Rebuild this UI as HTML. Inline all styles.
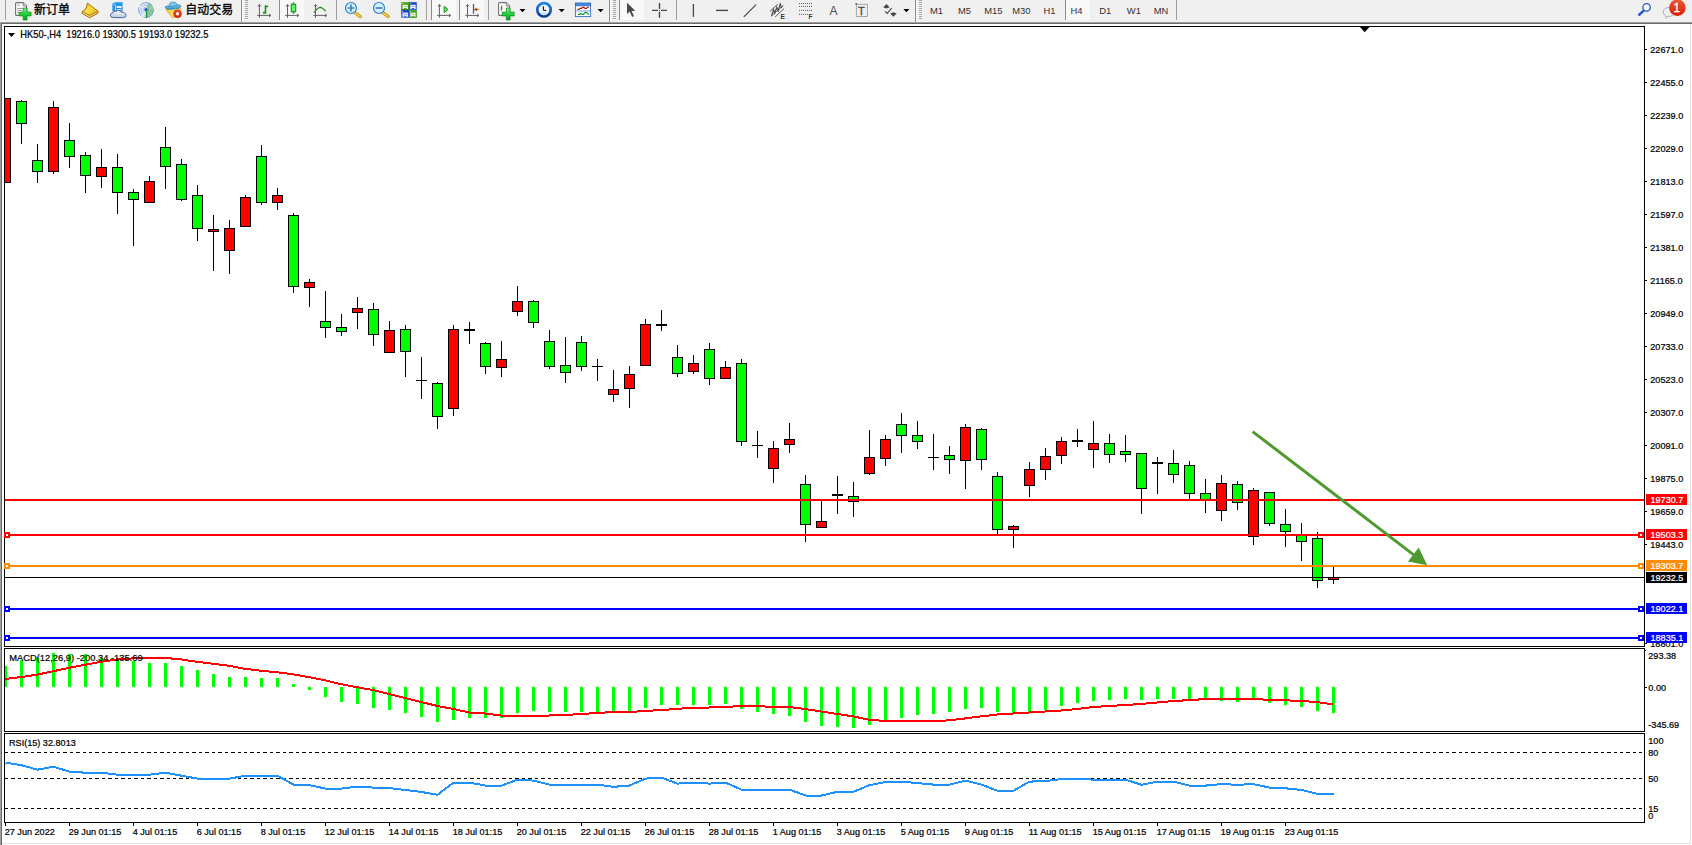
<!DOCTYPE html>
<html><head><meta charset="utf-8"><title>HK50-,H4</title>
<style>
html,body{margin:0;padding:0;background:#fff;}
body{width:1692px;height:845px;position:relative;overflow:hidden;font-family:"Liberation Sans", "Noto Sans CJK SC", sans-serif;}
#tb{position:absolute;left:0;top:0;width:1692px;height:22px;background:#f0f0f0;}
#tbl1{position:absolute;left:0;top:22px;width:1692px;height:1px;background:#a0a0a0;}
#tbl2{position:absolute;left:0;top:23px;width:1692px;height:1px;background:#696969;}
#lb{position:absolute;left:0;top:22px;width:1px;height:823px;background:#a0a0a0;}
#lb2{position:absolute;left:1px;top:23px;width:1px;height:822px;background:#696969;}
#rb{position:absolute;left:1690px;top:24px;width:1px;height:820px;background:#e3e3e3;}
#bb{position:absolute;left:2px;top:843px;width:1689px;height:1px;background:#e3e3e3;}
</style></head><body>
<div id="tb"><svg width="1692" height="24" viewBox="0 0 1692 24" style="position:absolute;left:0;top:0">
<defs>
<linearGradient id="gPlus" x1="0" y1="0" x2="0" y2="1"><stop offset="0" stop-color="#7af08a"/><stop offset="0.5" stop-color="#22d03a"/><stop offset="1" stop-color="#0a9a1c"/></linearGradient>
<linearGradient id="gGold" x1="0" y1="0" x2="1" y2="1"><stop offset="0" stop-color="#f2c21a"/><stop offset="0.5" stop-color="#fbe04a"/><stop offset="1" stop-color="#d99a10"/></linearGradient>
<linearGradient id="gBlue" x1="0" y1="0" x2="0" y2="1"><stop offset="0" stop-color="#1aa0f0"/><stop offset="1" stop-color="#2a7ae0"/></linearGradient>
<linearGradient id="gCloud" x1="0" y1="0" x2="0" y2="1"><stop offset="0" stop-color="#ffffff"/><stop offset="1" stop-color="#b8c6de"/></linearGradient>
<linearGradient id="gRed" x1="0" y1="0" x2="0" y2="1"><stop offset="0" stop-color="#ea5a3a"/><stop offset="1" stop-color="#d81e00"/></linearGradient>
<linearGradient id="gClock" x1="0" y1="0" x2="0" y2="1"><stop offset="0" stop-color="#2484e4"/><stop offset="1" stop-color="#083c94"/></linearGradient>
<linearGradient id="gHat" x1="0" y1="0" x2="0" y2="1"><stop offset="0" stop-color="#7cc4ea"/><stop offset="1" stop-color="#3a98cc"/></linearGradient>
<linearGradient id="gFace" x1="0" y1="0" x2="1" y2="0"><stop offset="0" stop-color="#f0c020"/><stop offset="0.6" stop-color="#fff080"/><stop offset="1" stop-color="#f0c838"/></linearGradient>
<linearGradient id="gGreenT" x1="0" y1="0" x2="0" y2="1"><stop offset="0" stop-color="#4aa818"/><stop offset="1" stop-color="#2a8a08"/></linearGradient>
<linearGradient id="gBlueT" x1="0" y1="0" x2="0" y2="1"><stop offset="0" stop-color="#1840c0"/><stop offset="1" stop-color="#3a6ae8"/></linearGradient>
<radialGradient id="gSig" cx="0.5" cy="0.5" r="0.5"><stop offset="0" stop-color="#ffffff"/><stop offset="1" stop-color="#d8e4f4"/></radialGradient>
<g id="axes" fill="none" stroke="#5a5a5a" stroke-width="0.95"><path d="M3.4 4.8V17.8M1.2 15.4H14.4"/><path d="M1.9 6.4L3.4 4.5L4.9 6.4M13 13.9L14.7 15.4L13 16.9" stroke-width="1"/></g>
<g id="grip" fill="#a8a8a8"><rect x="0" y="0" width="3" height="1"/><rect x="0" y="2" width="3" height="1"/><rect x="0" y="4" width="3" height="1"/><rect x="0" y="6" width="3" height="1"/><rect x="0" y="8" width="3" height="1"/><rect x="0" y="10" width="3" height="1"/><rect x="0" y="12" width="3" height="1"/><rect x="0" y="14" width="3" height="1"/><rect x="0" y="16" width="3" height="1"/><rect x="0" y="18" width="3" height="1"/></g>
<g id="dd"><path d="M0 0H6L3 3.2Z" fill="#000"/></g>
<g id="doc"><path d="M0.6 1.6Q0.6 0.6 1.6 0.6H8.2L11.6 4V12.4Q11.6 13.4 10.6 13.4H1.6Q0.6 13.4 0.6 12.4Z" fill="#fff" stroke="#707070" stroke-width="1.1"/><path d="M8.2 0.6V4H11.6" fill="#e8e8e8" stroke="#707070" stroke-width="0.9"/></g>
<g id="plus"><path d="M4.1 0H7.9V4.1H12V7.9H7.9V12H4.1V7.9H0V4.1H4.1Z" fill="url(#gPlus)" stroke="#0c8a1a" stroke-width="0.7"/></g>
<g id="win"><rect x="1.3" y="2.6" width="5.3" height="4.2" fill="#fff" opacity="0.95"/><rect x="2.3" y="3.7" width="3.3" height="1" fill="currentColor" opacity="0.5"/><rect x="2.6" y="5.8" width="2.7" height="1" fill="currentColor" opacity="0.9"/><rect x="0.8" y="0.8" width="1" height="0.9" fill="#fff" opacity="0.8"/></g>
</defs>
<rect x="0" y="0" width="1692" height="22" fill="#f0f0f0"/>
<!-- separators -->
<g shape-rendering="crispEdges">
<rect x="5" y="0" width="1" height="20" fill="#a0a0a0"/>
<rect x="241" y="0" width="1" height="22" fill="#8c8c8c"/><rect x="242" y="0" width="1" height="22" fill="#fafafa"/>
<rect x="336" y="0" width="1" height="20" fill="#a0a0a0"/>
<rect x="426" y="0" width="1" height="20" fill="#a0a0a0"/>
<rect x="488" y="0" width="1" height="20" fill="#a0a0a0"/>
<rect x="609" y="0" width="1" height="22" fill="#8c8c8c"/><rect x="610" y="0" width="1" height="22" fill="#fafafa"/>
<rect x="676" y="0" width="1" height="20" fill="#a0a0a0"/>
<rect x="915" y="0" width="1" height="22" fill="#8c8c8c"/><rect x="916" y="0" width="1" height="22" fill="#fafafa"/>
<rect x="1176" y="0" width="1" height="20" fill="#a0a0a0"/>
<!-- pressed buttons -->
<rect x="279" y="0" width="1" height="20" fill="#8c8c8c"/><rect x="280" y="0" width="24" height="20" fill="#f8f8f8"/>
<rect x="431" y="0" width="1" height="20" fill="#8c8c8c"/><rect x="432" y="0" width="24" height="20" fill="#f8f8f8"/>
<rect x="459" y="0" width="1" height="20" fill="#8c8c8c"/><rect x="460" y="0" width="24" height="20" fill="#f8f8f8"/>
<rect x="619" y="0" width="1" height="20" fill="#8c8c8c"/><rect x="620" y="0" width="24" height="20" fill="#f8f8f8"/>
<rect x="1065" y="0" width="1" height="20" fill="#8c8c8c"/><rect x="1066" y="0" width="24" height="20" fill="#f8f8f8"/>
<use href="#grip" x="245" y="0"/><use href="#grip" x="613" y="0"/><use href="#grip" x="919" y="0"/>
</g>
<!-- new order -->
<use href="#doc" x="15" y="2"/>
<g stroke="#8a8a8a" stroke-width="0.9"><path d="M17.2 5H19.8M17.2 8.4H23M17.2 10.4H22M17.2 12.6H19"/></g>
<use href="#plus" x="19.1" y="8"/>
<text x="34" y="14" font-family='"Liberation Sans","Noto Sans CJK SC",sans-serif' font-size="12px" fill="#000" stroke="#000" stroke-width="0.3">新订单</text>
<!-- gold book -->
<path d="M87.4 3.1L98.2 11.4L98 13.2L89.6 17.8L82.2 13.4L82.3 11.6Q87 9.4 87.4 3.1Z" fill="#c48a14" stroke="#a86c08" stroke-width="0.9" stroke-linejoin="round"/>
<path d="M83 12.8L89.6 16.6L97.6 12.2" fill="none" stroke="#f6e6b0" stroke-width="0.9"/>
<path d="M87.5 3.4L97.8 11.3L89.7 15.4L82.6 11.4Q87.2 9.2 87.5 3.4Z" fill="url(#gGold)" stroke="#b87a0a" stroke-width="0.7" stroke-linejoin="round"/>
<!-- server + cloud -->
<path d="M112.4 3L116 2.2H122.6V11.6H112.4Z" fill="url(#gBlue)"/>
<path d="M112.4 3L115.4 5.4V11.6" fill="none" stroke="#d8f0ff" stroke-width="0.8"/>
<rect x="116.6" y="6" width="5" height="2" fill="#e8f4ff"/><rect x="116.6" y="9" width="5" height="1.2" fill="#bfe0ff"/>
<path d="M113.4 17.6Q110.4 17.6 110.4 15.2Q110.4 13.2 112.8 13Q113.6 10.6 116.2 11.2Q118 9.6 120.2 11Q121.2 11.6 121.4 12.4Q123.6 11.8 124.6 13.2Q126 13.4 126 15.4Q126 17.6 123.4 17.6Z" fill="url(#gCloud)" stroke="#4a68a8" stroke-width="1"/>
<!-- signal -->
<circle cx="146" cy="10" r="7.8" fill="url(#gSig)"/>
<path d="M146 10L146.4 17.7A7.7 7.7 0 0 0 153.7 10A7.7 7.7 0 0 0 148.4 2.7Z" fill="#86cc84" opacity="0.8"/>
<g fill="none" stroke="#3a66d4"><circle cx="146" cy="10" r="7.4" stroke-width="0.9" opacity="0.6" stroke-dasharray="14 3 9 2"/><circle cx="146" cy="10" r="5" stroke-width="0.9" opacity="0.5" stroke-dasharray="9 2 6 2"/><circle cx="146" cy="10" r="2.9" stroke-width="0.8" opacity="0.45"/></g>
<circle cx="146" cy="9.8" r="1.8" fill="#2858d0"/>
<path d="M146.6 10.2V17.7" stroke="#18a020" stroke-width="1.3"/>
<!-- expert hat -->
<path d="M165.8 9.4L180.6 8.2L177 15L172.6 17.9Z" fill="url(#gFace)" stroke="#d8a010" stroke-width="0.7"/>
<path d="M165 7.5Q165.2 5.8 168.4 5.9L177.6 5Q181 4.6 181 6.3Q180 8.6 174 9.1Q166.4 9.8 165 7.5Z" fill="url(#gHat)" stroke="#2a86b8" stroke-width="0.8"/>
<path d="M169 6.3Q169.2 2 173 2Q176.6 2 177.2 5.2Q173.4 7 169 6.3Z" fill="#86caee" stroke="#2a86b8" stroke-width="0.7"/>
<circle cx="177.5" cy="13.8" r="4" fill="url(#gRed)" stroke="#c01800" stroke-width="0.5"/>
<rect x="176.2" y="12.5" width="2.7" height="2.7" fill="#fff"/>
<text x="185.3" y="14" font-family='"Liberation Sans","Noto Sans CJK SC",sans-serif' font-size="12px" fill="#000" stroke="#000" stroke-width="0.3">自动交易</text>
<!-- chart type icons -->
<use href="#axes" x="256" y="0"/>
<path d="M265.5 5.2V13.8M265.5 6.5H268.2M262.8 12.6H265.5" stroke="#149414" stroke-width="1.6" fill="none"/>
<use href="#axes" x="284.1" y="0"/>
<path d="M293.5 2.2V13.8" stroke="#149414" stroke-width="1.3"/>
<rect x="291.3" y="4.2" width="4.4" height="7.6" fill="#62f074" stroke="#149414" stroke-width="1.1"/>
<use href="#axes" x="312.1" y="0"/>
<path d="M314 12.6Q317.6 7.6 320.2 7.4Q322 7.4 325.7 11" fill="none" stroke="#1c8c1c" stroke-width="1.3"/>
<!-- zoom in/out -->
<path d="M354.6 12.4L360.4 16.6" stroke="#caa018" stroke-width="3.2" stroke-linecap="round"/>
<path d="M354.6 12.4L360.4 16.6" stroke="#f4d860" stroke-width="1.2" stroke-linecap="round"/>
<circle cx="351" cy="8" r="5.5" fill="#d4eefb" stroke="#2a7fd0" stroke-width="1.2"/>
<path d="M347.6 8H354.4M351 4.6V11.4" stroke="#3a86bc" stroke-width="1.7"/>
<path d="M382.6 12.4L388.4 16.6" stroke="#caa018" stroke-width="3.2" stroke-linecap="round"/>
<path d="M382.6 12.4L388.4 16.6" stroke="#f4d860" stroke-width="1.2" stroke-linecap="round"/>
<circle cx="379" cy="8" r="5.5" fill="#d4eefb" stroke="#2a7fd0" stroke-width="1.2"/>
<path d="M375.6 8H382.4" stroke="#3a86bc" stroke-width="1.7"/>
<!-- tile windows -->
<rect x="401.2" y="2.2" width="7.8" height="7.8" fill="url(#gGreenT)"/><g color="#3a9a10"><use href="#win" x="401.2" y="2.2"/></g>
<rect x="409" y="2.2" width="7.8" height="7.8" fill="url(#gBlueT)"/><g color="#2050d0"><use href="#win" x="409" y="2.2"/></g>
<rect x="401.2" y="10" width="7.8" height="7.8" fill="url(#gBlueT)"/><g color="#2050d0"><use href="#win" x="401.2" y="10"/></g>
<rect x="409" y="10" width="7.8" height="7.8" fill="url(#gGreenT)"/><g color="#3a9a10"><use href="#win" x="409" y="10"/></g>
<!-- autoscroll / shift -->
<use href="#axes" x="436" y="0"/>
<path d="M444.2 6.2V12.6L448 9.4Z" fill="#5ee070" stroke="#149414" stroke-width="1"/>
<use href="#axes" x="464.1" y="0"/>
<path d="M473.5 4V13.8" stroke="#1470b0" stroke-width="1.3"/>
<path d="M474.4 9.5H478.6" stroke="#c84800" stroke-width="1.2"/><path d="M474.2 9.5L477 7.4L476.4 9.5L477 11.6Z" fill="#c03000"/>
<!-- indicators -->
<use href="#doc" x="498" y="2"/>
<path d="M502.6 5.6Q501.4 5.6 501.4 7V11" fill="none" stroke="#6a5a3a" stroke-width="0.9"/><path d="M500.6 8H503" stroke="#6a5a3a" stroke-width="0.8"/>
<use href="#plus" x="502.2" y="8"/>
<use href="#dd" x="519.5" y="9"/>
<!-- clock -->
<circle cx="544" cy="9.8" r="6.7" fill="#f4f7fb" stroke="url(#gClock)" stroke-width="2.7"/>
<circle cx="544" cy="9.8" r="5.2" fill="none" stroke="#c8d4e4" stroke-width="0.6" stroke-dasharray="0.6 2.12"/>
<path d="M543.4 6.2V10L546.2 10.6" fill="none" stroke="#202020" stroke-width="1.2"/>
<path d="M542.4 13.2H545.4" stroke="#6ab0f0" stroke-width="0.8"/>
<use href="#dd" x="558.6" y="9"/>
<!-- template -->
<rect x="575.4" y="3.2" width="15.2" height="13.4" fill="#fff" stroke="#3272c4" stroke-width="0.9"/>
<rect x="575.4" y="3.2" width="15.2" height="2.6" fill="#4a8ee0" stroke="#3272c4" stroke-width="0.9"/>
<path d="M575.4 11H590.6" stroke="#5a8ed0" stroke-width="0.8"/>
<path d="M577.4 9.4H578.8L580 8.4H581.4L582.6 7.4H583.8L585 8.4H586.4L587.6 7.4H588.8" fill="none" stroke="#a82000" stroke-width="1.2"/>
<path d="M578 14.4H579.4L580.6 13.4L582.2 14.4H583.4L585.4 12.4H586.4L588.8 14.6" fill="none" stroke="#109030" stroke-width="1.2"/>
<use href="#dd" x="597.6" y="9"/>
<!-- cursor -->
<path d="M627 2.8V13.9L629.7 11.4L632.1 16.9L633.9 16.1L631.6 10.9L635.2 10.7Z" fill="#484848"/>
<!-- crosshair -->
<path d="M652 10.4H658M661 10.4H667M659.5 3V9M659.5 11.8V17.8" stroke="#484848" stroke-width="1.4"/>
<rect x="659" y="10" width="1" height="0.9" fill="#484848"/>
<!-- vline hline trend -->
<path d="M693.4 4V16.9" stroke="#484848" stroke-width="1.3"/>
<path d="M716 10.4H728" stroke="#484848" stroke-width="1.4"/>
<path d="M743.8 16.9L756.1 4.6" stroke="#484848" stroke-width="1.2"/>
<!-- channel -->
<g stroke="#484848" fill="none" stroke-width="0.9"><path d="M769.8 11.6L777.8 4.2M770.8 16.2L783.4 5.4M775.2 16.9L784 8.6"/><path d="M771.6 16L773.6 9.4L774.8 13.2L776.8 7.2L778.2 11L780.2 4L781.8 8" stroke-width="1.1"/></g>
<text x="780.6" y="18.7" font-family='"Liberation Sans",sans-serif' font-weight="bold" font-size="6.6px" fill="#383838">E</text>
<!-- fibo -->
<g stroke="#484848" stroke-width="0.9" stroke-dasharray="1 1"><path d="M799 3.5H812.4M799 6.4H812.4M799 10.4H812.4M799 14.4H808"/></g>
<text x="808.6" y="18.7" font-family='"Liberation Sans",sans-serif' font-weight="bold" font-size="6.6px" fill="#383838">F</text>
<text x="829.4" y="14.8" font-family='"Liberation Sans",sans-serif' font-size="12px" fill="#505050">A</text>
<rect x="856.4" y="4.3" width="11" height="12.2" fill="none" stroke="#484848" stroke-width="0.9" stroke-dasharray="1 1"/>
<rect x="855.4" y="3.2" width="1.6" height="1.2" fill="#484848"/>
<text x="858" y="14.8" font-family='"Liberation Sans",sans-serif' font-size="11px" fill="#484848" stroke="#484848" stroke-width="0.3">T</text>
<!-- arrows icon -->
<path d="M883.2 7.2L886.4 4L889.6 7.2L886.4 8.6Z" fill="#484848"/>
<path d="M890.2 13.6L893.4 12.2L896.6 13.6L893.4 16.8Z" fill="#484848"/>
<path d="M885 11.4L887.2 13.4L891.6 8.2" fill="none" stroke="#484848" stroke-width="1.1"/>
<use href="#dd" x="903.4" y="9"/>
<!-- timeframes -->
<g font-family='"Liberation Sans",sans-serif' font-size="9.4px" fill="#303030">
<text x="930" y="14.2">M1</text><text x="958" y="14.2">M5</text><text x="984.2" y="14.2">M15</text><text x="1012.2" y="14.2">M30</text><text x="1043.4" y="14.2">H1</text><text x="1070.6" y="14.2">H4</text><text x="1099.2" y="14.2">D1</text><text x="1126.8" y="14.2">W1</text><text x="1153.8" y="14.2">MN</text>
</g>
<!-- search -->
<path d="M1643.4 10.9L1639.2 14.7" stroke="#2a5ad0" stroke-width="2.6" stroke-linecap="round"/>
<circle cx="1646.6" cy="7.4" r="3.7" fill="#fdfdff" stroke="#2455cc" stroke-width="1.3"/>
<!-- chat -->
<path d="M1669.2 7.4Q1674 7 1675 10.6Q1675.6 15.6 1669.6 16.4L1667.4 16.4L1666.4 18.4L1665.8 16Q1663 14.6 1663.2 11.6Q1663.6 7.8 1669.2 7.4Z" fill="#eef0f8" stroke="#a8a8a8" stroke-width="0.9"/>
<circle cx="1677.4" cy="7.7" r="8.3" fill="url(#gRed)"/>
<text x="1673.3" y="12" font-family='"Liberation Sans",sans-serif' font-size="12.5px" fill="#fff" stroke="#fff" stroke-width="0.3">1</text>
</svg>
</div><div id="tbl1"></div><div id="tbl2"></div><div id="lb"></div><div id="lb2"></div><div id="rb"></div><div id="bb"></div>
<svg id="chart" width="1692" height="845" viewBox="0 0 1692 845" style="position:absolute;left:0;top:0">
<defs><clipPath id="cm"><rect x="5" y="27" width="1639" height="619"/></clipPath></defs>
<g shape-rendering="crispEdges" fill="none" stroke="#000" stroke-width="1">
<path d="M4.5 26V647M4.5 648V732M4.5 733V823"/>
<path d="M4 26.5H1645"/>
<path d="M1644.5 26V647M1644.5 648V732M1644.5 733V823"/>
<path d="M4 646.5H1645"/>
<path d="M4 648.5H1645"/>
<path d="M4 731.5H1645"/>
<path d="M4 733.5H1645"/>
<path d="M4 822.5H1645"/>
</g>
<path d="M1360 27H1369.5L1364.7 32.3Z" fill="#000"/>
<g clip-path="url(#cm)" shape-rendering="crispEdges">
<path d="M5.5 98V182" stroke="#000" stroke-width="1"/>
<rect x="0.5" y="98.5" width="10" height="84" fill="#ff0000" stroke="#000" stroke-width="1"/>
<path d="M21.5 100V144" stroke="#000" stroke-width="1"/>
<rect x="16.5" y="101.5" width="10" height="22" fill="#00ff00" stroke="#000" stroke-width="1"/>
<path d="M37.5 144V183" stroke="#000" stroke-width="1"/>
<rect x="32.5" y="160.5" width="10" height="11" fill="#00ff00" stroke="#000" stroke-width="1"/>
<path d="M53.5 101V174" stroke="#000" stroke-width="1"/>
<rect x="48.5" y="107.5" width="10" height="64" fill="#ff0000" stroke="#000" stroke-width="1"/>
<path d="M69.5 123V168" stroke="#000" stroke-width="1"/>
<rect x="64.5" y="140.5" width="10" height="16" fill="#00ff00" stroke="#000" stroke-width="1"/>
<path d="M85.5 152V193" stroke="#000" stroke-width="1"/>
<rect x="80.5" y="155.5" width="10" height="20" fill="#00ff00" stroke="#000" stroke-width="1"/>
<path d="M101.5 149V188" stroke="#000" stroke-width="1"/>
<rect x="96.5" y="167.5" width="10" height="9" fill="#ff0000" stroke="#000" stroke-width="1"/>
<path d="M117.5 154V214" stroke="#000" stroke-width="1"/>
<rect x="112.5" y="167.5" width="10" height="25" fill="#00ff00" stroke="#000" stroke-width="1"/>
<path d="M133.5 189V246" stroke="#000" stroke-width="1"/>
<rect x="128.5" y="192.5" width="10" height="7" fill="#00ff00" stroke="#000" stroke-width="1"/>
<path d="M149.5 176V203" stroke="#000" stroke-width="1"/>
<rect x="144.5" y="181.5" width="10" height="21" fill="#ff0000" stroke="#000" stroke-width="1"/>
<path d="M165.5 127V189" stroke="#000" stroke-width="1"/>
<rect x="160.5" y="147.5" width="10" height="19" fill="#00ff00" stroke="#000" stroke-width="1"/>
<path d="M181.5 159V201" stroke="#000" stroke-width="1"/>
<rect x="176.5" y="164.5" width="10" height="35" fill="#00ff00" stroke="#000" stroke-width="1"/>
<path d="M197.5 185V241" stroke="#000" stroke-width="1"/>
<rect x="192.5" y="195.5" width="10" height="33" fill="#00ff00" stroke="#000" stroke-width="1"/>
<path d="M213.5 215V271" stroke="#000" stroke-width="1"/>
<rect x="208.5" y="229.5" width="10" height="2" fill="#ff0000" stroke="#000" stroke-width="1"/>
<path d="M229.5 220V274" stroke="#000" stroke-width="1"/>
<rect x="224.5" y="228.5" width="10" height="22" fill="#ff0000" stroke="#000" stroke-width="1"/>
<path d="M245.5 195V227" stroke="#000" stroke-width="1"/>
<rect x="240.5" y="197.5" width="10" height="29" fill="#ff0000" stroke="#000" stroke-width="1"/>
<path d="M261.5 145V205" stroke="#000" stroke-width="1"/>
<rect x="256.5" y="156.5" width="10" height="46" fill="#00ff00" stroke="#000" stroke-width="1"/>
<path d="M277.5 188V210" stroke="#000" stroke-width="1"/>
<rect x="272.5" y="195.5" width="10" height="7" fill="#ff0000" stroke="#000" stroke-width="1"/>
<path d="M293.5 213V293" stroke="#000" stroke-width="1"/>
<rect x="288.5" y="215.5" width="10" height="71" fill="#00ff00" stroke="#000" stroke-width="1"/>
<path d="M309.5 279V307" stroke="#000" stroke-width="1"/>
<rect x="304.5" y="282.5" width="10" height="5" fill="#ff0000" stroke="#000" stroke-width="1"/>
<path d="M325.5 291V338" stroke="#000" stroke-width="1"/>
<rect x="320.5" y="321.5" width="10" height="6" fill="#00ff00" stroke="#000" stroke-width="1"/>
<path d="M341.5 314V336" stroke="#000" stroke-width="1"/>
<rect x="336.5" y="327.5" width="10" height="4" fill="#00ff00" stroke="#000" stroke-width="1"/>
<path d="M357.5 297V329" stroke="#000" stroke-width="1"/>
<rect x="352.5" y="308.5" width="10" height="4" fill="#ff0000" stroke="#000" stroke-width="1"/>
<path d="M373.5 303V346" stroke="#000" stroke-width="1"/>
<rect x="368.5" y="309.5" width="10" height="25" fill="#00ff00" stroke="#000" stroke-width="1"/>
<path d="M389.5 321V353" stroke="#000" stroke-width="1"/>
<rect x="384.5" y="330.5" width="10" height="22" fill="#ff0000" stroke="#000" stroke-width="1"/>
<path d="M405.5 325V377" stroke="#000" stroke-width="1"/>
<rect x="400.5" y="329.5" width="10" height="22" fill="#00ff00" stroke="#000" stroke-width="1"/>
<path d="M421.5 357V399" stroke="#000" stroke-width="1"/>
<rect x="416" y="380" width="11" height="1" fill="#000"/>
<path d="M437.5 382V429" stroke="#000" stroke-width="1"/>
<rect x="432.5" y="383.5" width="10" height="33" fill="#00ff00" stroke="#000" stroke-width="1"/>
<path d="M453.5 325V416" stroke="#000" stroke-width="1"/>
<rect x="448.5" y="329.5" width="10" height="79" fill="#ff0000" stroke="#000" stroke-width="1"/>
<path d="M469.5 322V344" stroke="#000" stroke-width="1"/>
<rect x="464" y="329" width="11" height="2" fill="#000"/>
<path d="M485.5 342V374" stroke="#000" stroke-width="1"/>
<rect x="480.5" y="343.5" width="10" height="23" fill="#00ff00" stroke="#000" stroke-width="1"/>
<path d="M501.5 341V377" stroke="#000" stroke-width="1"/>
<rect x="496.5" y="359.5" width="10" height="8" fill="#ff0000" stroke="#000" stroke-width="1"/>
<path d="M517.5 286V316" stroke="#000" stroke-width="1"/>
<rect x="512.5" y="301.5" width="10" height="10" fill="#ff0000" stroke="#000" stroke-width="1"/>
<path d="M533.5 300V328" stroke="#000" stroke-width="1"/>
<rect x="528.5" y="301.5" width="10" height="21" fill="#00ff00" stroke="#000" stroke-width="1"/>
<path d="M549.5 330V369" stroke="#000" stroke-width="1"/>
<rect x="544.5" y="341.5" width="10" height="25" fill="#00ff00" stroke="#000" stroke-width="1"/>
<path d="M565.5 337V383" stroke="#000" stroke-width="1"/>
<rect x="560.5" y="365.5" width="10" height="7" fill="#00ff00" stroke="#000" stroke-width="1"/>
<path d="M581.5 336V371" stroke="#000" stroke-width="1"/>
<rect x="576.5" y="342.5" width="10" height="24" fill="#00ff00" stroke="#000" stroke-width="1"/>
<path d="M597.5 359V381" stroke="#000" stroke-width="1"/>
<rect x="592" y="366" width="11" height="1" fill="#000"/>
<path d="M613.5 370V402" stroke="#000" stroke-width="1"/>
<rect x="608.5" y="389.5" width="10" height="5" fill="#ff0000" stroke="#000" stroke-width="1"/>
<path d="M629.5 366V408" stroke="#000" stroke-width="1"/>
<rect x="624.5" y="374.5" width="10" height="14" fill="#ff0000" stroke="#000" stroke-width="1"/>
<path d="M645.5 319V366" stroke="#000" stroke-width="1"/>
<rect x="640.5" y="324.5" width="10" height="41" fill="#ff0000" stroke="#000" stroke-width="1"/>
<path d="M661.5 310V331" stroke="#000" stroke-width="1"/>
<rect x="656" y="324" width="11" height="2" fill="#000"/>
<path d="M677.5 345V377" stroke="#000" stroke-width="1"/>
<rect x="672.5" y="357.5" width="10" height="16" fill="#00ff00" stroke="#000" stroke-width="1"/>
<path d="M693.5 355V374" stroke="#000" stroke-width="1"/>
<rect x="688.5" y="363.5" width="10" height="8" fill="#ff0000" stroke="#000" stroke-width="1"/>
<path d="M709.5 343V385" stroke="#000" stroke-width="1"/>
<rect x="704.5" y="349.5" width="10" height="29" fill="#00ff00" stroke="#000" stroke-width="1"/>
<path d="M725.5 361V379" stroke="#000" stroke-width="1"/>
<rect x="720.5" y="367.5" width="10" height="11" fill="#ff0000" stroke="#000" stroke-width="1"/>
<path d="M741.5 359V446" stroke="#000" stroke-width="1"/>
<rect x="736.5" y="363.5" width="10" height="78" fill="#00ff00" stroke="#000" stroke-width="1"/>
<path d="M757.5 431V458" stroke="#000" stroke-width="1"/>
<rect x="752" y="445" width="11" height="1" fill="#000"/>
<path d="M773.5 441V483" stroke="#000" stroke-width="1"/>
<rect x="768.5" y="448.5" width="10" height="20" fill="#ff0000" stroke="#000" stroke-width="1"/>
<path d="M789.5 423V453" stroke="#000" stroke-width="1"/>
<rect x="784.5" y="439.5" width="10" height="5" fill="#ff0000" stroke="#000" stroke-width="1"/>
<path d="M805.5 475V542" stroke="#000" stroke-width="1"/>
<rect x="800.5" y="484.5" width="10" height="40" fill="#00ff00" stroke="#000" stroke-width="1"/>
<path d="M821.5 501V528" stroke="#000" stroke-width="1"/>
<rect x="816.5" y="521.5" width="10" height="6" fill="#ff0000" stroke="#000" stroke-width="1"/>
<path d="M837.5 476V514" stroke="#000" stroke-width="1"/>
<rect x="832" y="494" width="11" height="2" fill="#000"/>
<path d="M853.5 482V517" stroke="#000" stroke-width="1"/>
<rect x="848.5" y="496.5" width="10" height="5" fill="#00ff00" stroke="#000" stroke-width="1"/>
<path d="M869.5 430V475" stroke="#000" stroke-width="1"/>
<rect x="864.5" y="457.5" width="10" height="16" fill="#ff0000" stroke="#000" stroke-width="1"/>
<path d="M885.5 435V466" stroke="#000" stroke-width="1"/>
<rect x="880.5" y="439.5" width="10" height="19" fill="#ff0000" stroke="#000" stroke-width="1"/>
<path d="M901.5 413V453" stroke="#000" stroke-width="1"/>
<rect x="896.5" y="424.5" width="10" height="11" fill="#00ff00" stroke="#000" stroke-width="1"/>
<path d="M917.5 421V449" stroke="#000" stroke-width="1"/>
<rect x="912.5" y="435.5" width="10" height="6" fill="#00ff00" stroke="#000" stroke-width="1"/>
<path d="M933.5 434V470" stroke="#000" stroke-width="1"/>
<rect x="928" y="457" width="11" height="1" fill="#000"/>
<path d="M949.5 446V474" stroke="#000" stroke-width="1"/>
<rect x="944.5" y="455.5" width="10" height="4" fill="#00ff00" stroke="#000" stroke-width="1"/>
<path d="M965.5 424V489" stroke="#000" stroke-width="1"/>
<rect x="960.5" y="427.5" width="10" height="33" fill="#ff0000" stroke="#000" stroke-width="1"/>
<path d="M981.5 428V470" stroke="#000" stroke-width="1"/>
<rect x="976.5" y="429.5" width="10" height="30" fill="#00ff00" stroke="#000" stroke-width="1"/>
<path d="M997.5 472V534" stroke="#000" stroke-width="1"/>
<rect x="992.5" y="476.5" width="10" height="53" fill="#00ff00" stroke="#000" stroke-width="1"/>
<path d="M1013.5 525V548" stroke="#000" stroke-width="1"/>
<rect x="1008.5" y="526.5" width="10" height="3" fill="#ff0000" stroke="#000" stroke-width="1"/>
<path d="M1029.5 462V497" stroke="#000" stroke-width="1"/>
<rect x="1024.5" y="469.5" width="10" height="16" fill="#ff0000" stroke="#000" stroke-width="1"/>
<path d="M1045.5 448V480" stroke="#000" stroke-width="1"/>
<rect x="1040.5" y="456.5" width="10" height="13" fill="#ff0000" stroke="#000" stroke-width="1"/>
<path d="M1061.5 437V464" stroke="#000" stroke-width="1"/>
<rect x="1056.5" y="441.5" width="10" height="14" fill="#ff0000" stroke="#000" stroke-width="1"/>
<path d="M1077.5 429V447" stroke="#000" stroke-width="1"/>
<rect x="1072" y="440" width="11" height="2" fill="#000"/>
<path d="M1093.5 421V468" stroke="#000" stroke-width="1"/>
<rect x="1088.5" y="443.5" width="10" height="6" fill="#ff0000" stroke="#000" stroke-width="1"/>
<path d="M1109.5 434V463" stroke="#000" stroke-width="1"/>
<rect x="1104.5" y="443.5" width="10" height="11" fill="#00ff00" stroke="#000" stroke-width="1"/>
<path d="M1125.5 435V462" stroke="#000" stroke-width="1"/>
<rect x="1120.5" y="451.5" width="10" height="3" fill="#00ff00" stroke="#000" stroke-width="1"/>
<path d="M1141.5 453V514" stroke="#000" stroke-width="1"/>
<rect x="1136.5" y="453.5" width="10" height="35" fill="#00ff00" stroke="#000" stroke-width="1"/>
<path d="M1157.5 457V494" stroke="#000" stroke-width="1"/>
<rect x="1152" y="462" width="11" height="2" fill="#000"/>
<path d="M1173.5 450V483" stroke="#000" stroke-width="1"/>
<rect x="1168.5" y="463.5" width="10" height="11" fill="#00ff00" stroke="#000" stroke-width="1"/>
<path d="M1189.5 461V499" stroke="#000" stroke-width="1"/>
<rect x="1184.5" y="465.5" width="10" height="28" fill="#00ff00" stroke="#000" stroke-width="1"/>
<path d="M1205.5 479V513" stroke="#000" stroke-width="1"/>
<rect x="1200.5" y="493.5" width="10" height="6" fill="#00ff00" stroke="#000" stroke-width="1"/>
<path d="M1221.5 475V521" stroke="#000" stroke-width="1"/>
<rect x="1216.5" y="483.5" width="10" height="27" fill="#ff0000" stroke="#000" stroke-width="1"/>
<path d="M1237.5 481V510" stroke="#000" stroke-width="1"/>
<rect x="1232.5" y="484.5" width="10" height="18" fill="#00ff00" stroke="#000" stroke-width="1"/>
<path d="M1253.5 488V545" stroke="#000" stroke-width="1"/>
<rect x="1248.5" y="490.5" width="10" height="46" fill="#ff0000" stroke="#000" stroke-width="1"/>
<path d="M1269.5 492V526" stroke="#000" stroke-width="1"/>
<rect x="1264.5" y="492.5" width="10" height="31" fill="#00ff00" stroke="#000" stroke-width="1"/>
<path d="M1285.5 509V547" stroke="#000" stroke-width="1"/>
<rect x="1280.5" y="524.5" width="10" height="7" fill="#00ff00" stroke="#000" stroke-width="1"/>
<path d="M1301.5 523V561" stroke="#000" stroke-width="1"/>
<rect x="1296.5" y="535.5" width="10" height="6" fill="#00ff00" stroke="#000" stroke-width="1"/>
<path d="M1317.5 532V588" stroke="#000" stroke-width="1"/>
<rect x="1312.5" y="538.5" width="10" height="42" fill="#00ff00" stroke="#000" stroke-width="1"/>
<path d="M1333.5 567V584" stroke="#000" stroke-width="1"/>
<rect x="1328.5" y="577.5" width="10" height="2" fill="#ff0000" stroke="#000" stroke-width="1"/>
</g>
<g shape-rendering="crispEdges">
<rect x="5" y="499" width="1639" height="2" fill="#ff0000"/>
<rect x="5" y="534" width="1639" height="2" fill="#ff0000"/>
<rect x="5" y="533" width="4" height="4" fill="#fff" stroke="#ff0000" stroke-width="2"/>
<rect x="1639" y="533" width="4" height="4" fill="#fff" stroke="#ff0000" stroke-width="2"/>
<rect x="5" y="565" width="1639" height="2" fill="#ff8c00"/>
<rect x="5" y="564" width="4" height="4" fill="#fff" stroke="#ff8c00" stroke-width="2"/>
<rect x="1639" y="564" width="4" height="4" fill="#fff" stroke="#ff8c00" stroke-width="2"/>
<rect x="5" y="577" width="1639" height="1" fill="#000"/>
<rect x="5" y="608" width="1639" height="2" fill="#0000ff"/>
<rect x="5" y="607" width="4" height="4" fill="#fff" stroke="#0000ff" stroke-width="2"/>
<rect x="1639" y="607" width="4" height="4" fill="#fff" stroke="#0000ff" stroke-width="2"/>
<rect x="5" y="637" width="1639" height="2" fill="#0000ff"/>
<rect x="5" y="636" width="4" height="4" fill="#fff" stroke="#0000ff" stroke-width="2"/>
<rect x="1639" y="636" width="4" height="4" fill="#fff" stroke="#0000ff" stroke-width="2"/>
</g>
<g fill="#4e9a2e" stroke="none">
<path d="M1251.7 432.8L1412.5 555.8L1414.3 553.4L1253.5 430.4Z"/>
<path d="M1427.2 565.2L1408.0 561.6L1418.7 547.6Z"/>
</g>
<g shape-rendering="crispEdges" fill="#00ff00">
<rect x="5" y="666" width="2" height="21"/>
<rect x="20" y="660" width="3" height="27"/>
<rect x="36" y="658" width="3" height="29"/>
<rect x="52" y="653" width="3" height="34"/>
<rect x="68" y="654" width="3" height="33"/>
<rect x="84" y="654" width="3" height="33"/>
<rect x="100" y="658" width="3" height="29"/>
<rect x="116" y="659" width="3" height="28"/>
<rect x="132" y="661" width="3" height="26"/>
<rect x="148" y="663" width="3" height="24"/>
<rect x="164" y="663" width="3" height="24"/>
<rect x="180" y="666" width="3" height="21"/>
<rect x="196" y="670" width="3" height="17"/>
<rect x="212" y="674" width="3" height="13"/>
<rect x="228" y="677" width="3" height="10"/>
<rect x="244" y="677" width="3" height="10"/>
<rect x="260" y="678" width="3" height="9"/>
<rect x="276" y="678" width="3" height="9"/>
<rect x="292" y="684" width="3" height="3"/>
<rect x="308" y="687" width="3" height="3"/>
<rect x="324" y="687" width="3" height="10"/>
<rect x="340" y="687" width="3" height="15"/>
<rect x="356" y="687" width="3" height="17"/>
<rect x="372" y="687" width="3" height="21"/>
<rect x="388" y="687" width="3" height="23"/>
<rect x="404" y="687" width="3" height="26"/>
<rect x="420" y="687" width="3" height="30"/>
<rect x="436" y="687" width="3" height="35"/>
<rect x="452" y="687" width="3" height="33"/>
<rect x="468" y="687" width="3" height="31"/>
<rect x="484" y="687" width="3" height="31"/>
<rect x="500" y="687" width="3" height="31"/>
<rect x="516" y="687" width="3" height="26"/>
<rect x="532" y="687" width="3" height="24"/>
<rect x="548" y="687" width="3" height="25"/>
<rect x="564" y="687" width="3" height="25"/>
<rect x="580" y="687" width="3" height="25"/>
<rect x="596" y="687" width="3" height="26"/>
<rect x="612" y="687" width="3" height="26"/>
<rect x="628" y="687" width="3" height="24"/>
<rect x="644" y="687" width="3" height="21"/>
<rect x="660" y="687" width="3" height="18"/>
<rect x="676" y="687" width="3" height="18"/>
<rect x="692" y="687" width="3" height="18"/>
<rect x="708" y="687" width="3" height="18"/>
<rect x="724" y="687" width="3" height="17"/>
<rect x="740" y="687" width="3" height="22"/>
<rect x="756" y="687" width="3" height="25"/>
<rect x="772" y="687" width="3" height="27"/>
<rect x="788" y="687" width="3" height="29"/>
<rect x="804" y="687" width="3" height="35"/>
<rect x="820" y="687" width="3" height="39"/>
<rect x="836" y="687" width="3" height="40"/>
<rect x="852" y="687" width="3" height="41"/>
<rect x="868" y="687" width="3" height="38"/>
<rect x="884" y="687" width="3" height="34"/>
<rect x="900" y="687" width="3" height="31"/>
<rect x="916" y="687" width="3" height="28"/>
<rect x="932" y="687" width="3" height="27"/>
<rect x="948" y="687" width="3" height="25"/>
<rect x="964" y="687" width="3" height="22"/>
<rect x="980" y="687" width="3" height="21"/>
<rect x="996" y="687" width="3" height="25"/>
<rect x="1012" y="687" width="3" height="27"/>
<rect x="1028" y="687" width="3" height="26"/>
<rect x="1044" y="687" width="3" height="23"/>
<rect x="1060" y="687" width="3" height="19"/>
<rect x="1076" y="687" width="3" height="16"/>
<rect x="1092" y="687" width="3" height="14"/>
<rect x="1108" y="687" width="3" height="13"/>
<rect x="1124" y="687" width="3" height="12"/>
<rect x="1140" y="687" width="3" height="13"/>
<rect x="1156" y="687" width="3" height="12"/>
<rect x="1172" y="687" width="3" height="12"/>
<rect x="1188" y="687" width="3" height="13"/>
<rect x="1204" y="687" width="3" height="13"/>
<rect x="1220" y="687" width="3" height="14"/>
<rect x="1236" y="687" width="3" height="15"/>
<rect x="1252" y="687" width="3" height="13"/>
<rect x="1268" y="687" width="3" height="16"/>
<rect x="1284" y="687" width="3" height="18"/>
<rect x="1300" y="687" width="3" height="20"/>
<rect x="1316" y="687" width="3" height="24"/>
<rect x="1332" y="687" width="3" height="26"/>
</g>
<polyline points="5.0,679.0 21.4,677.0 37.0,674.7 53.0,671.3 69.0,667.8 85.0,664.8 101.0,661.8 117.0,659.4 133.0,658.4 149.0,657.9 165.0,657.9 181.0,659.4 197.0,661.8 213.0,663.8 229.0,665.8 245.0,668.8 261.0,670.8 277.0,672.3 293.0,674.3 309.0,677.2 325.0,680.2 341.0,684.2 357.0,687.2 373.0,690.1 389.0,694.1 405.0,698.1 421.3,702.0 437.5,706.0 453.4,709.0 469.5,712.5 485.4,713.5 501.3,715.5 517.4,715.5 533.3,715.5 549.2,715.5 565.3,715.0 581.2,714.0 597.3,713.0 613.2,712.0 629.1,712.0 645.2,711.0 661.1,710.0 677.0,709.0 693.1,707.5 709.0,707.5 725.1,707.0 741.0,706.0 756.9,706.0 773.0,707.0 789.0,707.0 805.0,709.0 821.3,711.5 837.5,714.0 853.4,716.4 869.5,719.9 885.4,720.9 901.3,720.9 917.4,720.9 933.3,720.9 949.2,720.4 965.3,718.4 981.2,716.4 997.3,714.5 1013.2,713.5 1029.0,712.5 1045.0,711.5 1061.0,710.5 1077.0,709.0 1093.0,707.0 1109.0,706.0 1125.0,705.0 1141.0,704.0 1157.0,702.5 1173.0,701.1 1189.0,700.1 1205.0,699.1 1221.0,698.8 1237.0,698.8 1253.5,699.1 1269.5,699.8 1285.5,700.3 1301.4,701.1 1317.3,702.0 1326.4,703.5 1333.4,704.0" fill="none" stroke="#ff0000" stroke-width="2" stroke-linejoin="round" shape-rendering="crispEdges"/>
<g shape-rendering="crispEdges" stroke="#000" stroke-width="1" stroke-dasharray="3.46 3">
<path d="M5 752.5H1642"/>
<path d="M5 778.5H1642"/>
<path d="M5 808.5H1642"/>
</g>
<polyline points="5.5,762.7 21.5,765.2 37.5,769.7 53.5,766.7 69.5,771.7 85.5,772.7 101.5,772.7 117.5,774.7 133.5,774.7 149.5,774.7 165.5,772.7 181.5,775.7 197.5,778.6 213.5,778.6 229.5,778.6 245.5,775.7 261.5,775.7 277.5,775.7 293.5,784.6 309.5,785.1 325.5,788.6 341.5,788.6 357.5,786.6 373.5,787.6 389.5,788.1 405.5,790.0 421.5,792.0 437.5,794.8 453.5,782.6 469.5,782.6 485.5,785.6 501.5,785.6 517.5,779.6 533.5,780.6 549.5,784.6 565.5,784.6 581.5,784.6 597.5,784.6 613.5,786.8 629.5,785.6 645.5,778.6 661.5,777.6 677.5,783.6 693.5,782.6 709.5,783.6 725.5,782.6 741.5,789.6 757.5,789.6 773.5,789.6 789.5,789.6 805.5,795.5 821.5,795.5 837.5,791.8 853.5,791.8 869.5,785.1 885.5,782.1 901.5,781.6 917.5,783.1 933.5,784.6 949.5,784.6 965.5,780.6 981.5,784.6 997.5,790.8 1013.5,790.8 1029.5,781.6 1045.5,781.1 1061.5,779.1 1077.5,778.9 1093.5,779.6 1109.5,779.6 1125.5,779.6 1141.5,784.8 1157.5,781.6 1173.5,781.6 1189.5,785.6 1205.5,785.6 1221.5,784.1 1237.5,784.8 1253.5,784.1 1269.5,787.6 1285.5,788.3 1301.5,790.0 1317.5,793.8 1333.5,793.8" fill="none" stroke="#1e90ff" stroke-width="2" stroke-linejoin="round" shape-rendering="crispEdges"/>
<g shape-rendering="crispEdges" stroke="#000" stroke-width="1">
<path d="M1645 49.5H1647"/>
<path d="M1645 82.5H1647"/>
<path d="M1645 115.5H1647"/>
<path d="M1645 148.5H1647"/>
<path d="M1645 181.5H1647"/>
<path d="M1645 214.5H1647"/>
<path d="M1645 247.5H1647"/>
<path d="M1645 280.5H1647"/>
<path d="M1645 313.5H1647"/>
<path d="M1645 346.5H1647"/>
<path d="M1645 379.5H1647"/>
<path d="M1645 412.5H1647"/>
<path d="M1645 445.5H1647"/>
<path d="M1645 478.5H1647"/>
<path d="M1645 511.5H1647"/>
<path d="M1645 544.5H1647"/>
<path d="M1645 687.5H1647M1645 643.5H1647M1645 650.5H1646"/>
<path d="M5.5 823V826"/>
<path d="M69.5 823V826"/>
<path d="M133.5 823V826"/>
<path d="M197.5 823V826"/>
<path d="M261.5 823V826"/>
<path d="M325.5 823V826"/>
<path d="M389.5 823V826"/>
<path d="M453.5 823V826"/>
<path d="M517.5 823V826"/>
<path d="M581.5 823V826"/>
<path d="M645.5 823V826"/>
<path d="M709.5 823V826"/>
<path d="M773.5 823V826"/>
<path d="M837.5 823V826"/>
<path d="M901.5 823V826"/>
<path d="M965.5 823V826"/>
<path d="M1029.5 823V826"/>
<path d="M1093.5 823V826"/>
<path d="M1157.5 823V826"/>
<path d="M1221.5 823V826"/>
<path d="M1285.5 823V826"/>
</g>
<g font-family='"Liberation Sans", "Noto Sans CJK SC", sans-serif' font-size="9.1px" fill="#000" stroke="#000" stroke-width="0.22">
<text transform="translate(1650.3 53.0) scale(1 1.05)">22671.0</text>
<text transform="translate(1650.3 86.0) scale(1 1.05)">22455.0</text>
<text transform="translate(1650.3 119.0) scale(1 1.05)">22239.0</text>
<text transform="translate(1650.3 152.0) scale(1 1.05)">22029.0</text>
<text transform="translate(1650.3 185.0) scale(1 1.05)">21813.0</text>
<text transform="translate(1650.3 218.0) scale(1 1.05)">21597.0</text>
<text transform="translate(1650.3 251.0) scale(1 1.05)">21381.0</text>
<text transform="translate(1650.3 284.0) scale(1 1.05)">21165.0</text>
<text transform="translate(1650.3 317.0) scale(1 1.05)">20949.0</text>
<text transform="translate(1650.3 350.0) scale(1 1.05)">20733.0</text>
<text transform="translate(1650.3 383.0) scale(1 1.05)">20523.0</text>
<text transform="translate(1650.3 416.0) scale(1 1.05)">20307.0</text>
<text transform="translate(1650.3 449.0) scale(1 1.05)">20091.0</text>
<text transform="translate(1650.3 482.0) scale(1 1.05)">19875.0</text>
<text transform="translate(1650.3 515.0) scale(1 1.05)">19659.0</text>
<text transform="translate(1650.3 548.0) scale(1 1.05)">19443.0</text>
<text transform="translate(1650.3 647.0) scale(1 1.05)">18801.0</text>
<rect x="1646" y="494" width="41" height="11" fill="#ff0000" stroke="none" shape-rendering="crispEdges"/>
<text transform="translate(1650.5 502.9) scale(1 1.05)" fill="#fff" stroke="#fff">19730.7</text>
<rect x="1646" y="529" width="41" height="11" fill="#ff0000" stroke="none" shape-rendering="crispEdges"/>
<text transform="translate(1650.5 537.9) scale(1 1.05)" fill="#fff" stroke="#fff">19503.3</text>
<rect x="1646" y="560" width="41" height="11" fill="#ff8c00" stroke="none" shape-rendering="crispEdges"/>
<text transform="translate(1650.5 568.9) scale(1 1.05)" fill="#fff" stroke="#fff">19303.7</text>
<rect x="1646" y="572" width="41" height="11" fill="#000000" stroke="none" shape-rendering="crispEdges"/>
<text transform="translate(1650.5 580.9) scale(1 1.05)" fill="#fff" stroke="#fff">19232.5</text>
<rect x="1646" y="603" width="41" height="11" fill="#0000ff" stroke="none" shape-rendering="crispEdges"/>
<text transform="translate(1650.5 611.9) scale(1 1.05)" fill="#fff" stroke="#fff">19022.1</text>
<rect x="1646" y="632" width="41" height="11" fill="#0000ff" stroke="none" shape-rendering="crispEdges"/>
<text transform="translate(1650.5 640.9) scale(1 1.05)" fill="#fff" stroke="#fff">18835.1</text>
<text transform="translate(1648.3 659.1) scale(1 1.05)">293.38</text>
<text transform="translate(1648.3 691.3) scale(1 1.05)">0.00</text>
<text transform="translate(1648.3 728.2) scale(1 1.05)">-345.69</text>
<text transform="translate(1648.3 744) scale(1 1.05)">100</text>
<text transform="translate(1648.3 756) scale(1 1.05)">80</text>
<text transform="translate(1648.3 782) scale(1 1.05)">50</text>
<text transform="translate(1648.3 811.6) scale(1 1.05)">15</text>
<text transform="translate(1648.3 819.2) scale(1 1.05)">0</text>
<text transform="translate(4.7 835.3) scale(1 1.05)">27 Jun 2022</text>
<text transform="translate(68.7 835.3) scale(1 1.05)">29 Jun 01:15</text>
<text transform="translate(132.7 835.3) scale(1 1.05)">4 Jul 01:15</text>
<text transform="translate(196.7 835.3) scale(1 1.05)">6 Jul 01:15</text>
<text transform="translate(260.7 835.3) scale(1 1.05)">8 Jul 01:15</text>
<text transform="translate(324.7 835.3) scale(1 1.05)">12 Jul 01:15</text>
<text transform="translate(388.7 835.3) scale(1 1.05)">14 Jul 01:15</text>
<text transform="translate(452.7 835.3) scale(1 1.05)">18 Jul 01:15</text>
<text transform="translate(516.7 835.3) scale(1 1.05)">20 Jul 01:15</text>
<text transform="translate(580.7 835.3) scale(1 1.05)">22 Jul 01:15</text>
<text transform="translate(644.7 835.3) scale(1 1.05)">26 Jul 01:15</text>
<text transform="translate(708.7 835.3) scale(1 1.05)">28 Jul 01:15</text>
<text transform="translate(772.7 835.3) scale(1 1.05)">1 Aug 01:15</text>
<text transform="translate(836.7 835.3) scale(1 1.05)">3 Aug 01:15</text>
<text transform="translate(900.7 835.3) scale(1 1.05)">5 Aug 01:15</text>
<text transform="translate(964.7 835.3) scale(1 1.05)">9 Aug 01:15</text>
<text transform="translate(1028.7 835.3) scale(1 1.05)">11 Aug 01:15</text>
<text transform="translate(1092.7 835.3) scale(1 1.05)">15 Aug 01:15</text>
<text transform="translate(1156.7 835.3) scale(1 1.05)">17 Aug 01:15</text>
<text transform="translate(1220.7 835.3) scale(1 1.05)">19 Aug 01:15</text>
<text transform="translate(1284.7 835.3) scale(1 1.05)">23 Aug 01:15</text>
<text transform="translate(9.2 661.3) scale(1 1.05)" font-size="9.35px">MACD(12,26,9) -200.34 -135.69</text>
<text transform="translate(9 746) scale(1 1.05)">RSI(15) 32.8013</text>
<text transform="translate(20.3 37.8) scale(1 1.09)" font-size="9.3px" xml:space="preserve">HK50-,H4  19216.0 19300.5 19193.0 19232.5</text>
</g>
<path d="M8 33H15L11.5 37Z" fill="#000"/>
</svg>
</body></html>
